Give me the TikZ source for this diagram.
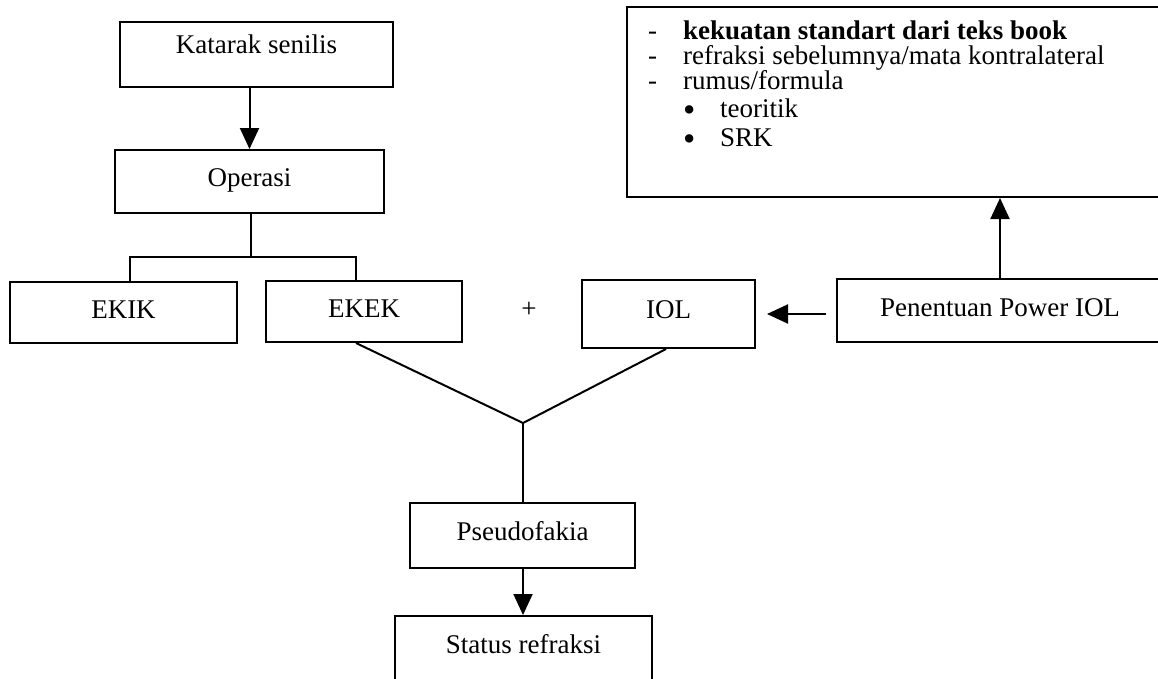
\documentclass[tikz,border=0pt]{standalone}
\usepackage{fontspec}
\setmainfont{Liberation Serif}
\usepackage{tikz}
\usetikzlibrary{arrows.meta,positioning,calc}

\newcommand{\titik}{\raisebox{-4pt}[12pt][0pt]{\scalebox{1.3}{\textbullet}}}

\begin{document}
\begin{tikzpicture}[x=1pt,y=-1pt,
    box/.style={draw,line width=2pt,inner sep=0pt,text height=18pt,text depth=6pt},
    isi/.style={anchor=base west,inner sep=0pt},
    garis/.style={line width=2pt},
    panah/.style={line width=2pt,-{Triangle[length=21pt,width=19pt]}},
    font=\fontsize{27}{30}\selectfont
]
\useasboundingbox (0,0) rectangle (1158,678);
\clip (0,0) rectangle (1158,678);

\node[box,minimum width=273,minimum height=65,text depth=20pt] (katarak) at (256.5,54.5) {Katarak senilis};
\node[box,minimum width=269,minimum height=63,text depth=9pt] (operasi) at (249.5,181.5) {Operasi};
\node[box,minimum width=227,minimum height=61] (ekik) at (123.5,312.5) {EKIK};
\node[box,minimum width=196,minimum height=61] (ekek) at (364,311.5) {EKEK};
\node (plus) at (529,310) {+};
\node[box,minimum width=173,minimum height=68,text depth=10pt] (iol) at (668.5,314) {IOL};
\node[box,minimum width=326,minimum height=63] (penentuan) at (1000,310.5) {Penentuan Power IOL};
\node[box,minimum width=538,minimum height=190] (teks) at (896,102) {};
\node[box,minimum width=225,minimum height=65,text depth=9pt] (pseudo) at (522.5,535.5) {Pseudofakia};
\node[box,minimum width=257,inner ysep=19pt,text depth=45pt,anchor=north] (status) at (523.5,615) {Status refraksi};

\node[isi] (d1) at (648,39) {-};
\node[isi] (t1) at (683,39) {\bfseries kekuatan standart dari teks book};
\node[isi] (d2) at (648,64) {-};
\node[isi] (t2) at (683,64) {refraksi sebelumnya/mata kontralateral};
\node[isi] (d3) at (648,89) {-};
\node[isi] (t3) at (683,89) {rumus/formula};
\node[isi] (b1) at (683,117) {\titik};
\node[isi] (t4) at (720,117) {teoritik};
\node[isi] (b2) at (683,146) {\titik};
\node[isi] (t5) at (720,146) {SRK};

\coordinate (cabang) at (251,257);
\coordinate (temu) at (523,423);

\draw[panah] (operasi.north |- katarak.south) -- (operasi.north);
\draw[garis] (operasi.south -| cabang) -- (cabang);
\draw[garis] ([xshift=6.5pt]ekik.north) |- (cabang) -| ([xshift=-8pt]ekek.north);
\draw[garis] ([xshift=-8pt]ekek.south) -- (temu) -- ([xshift=-2.5pt]iol.south);
\draw[garis] (temu) -- (temu |- pseudo.north);
\draw[panah] (pseudo.south -| temu) -- (temu |- status.north);
\draw[panah,shorten <=10pt,shorten >=11pt] (penentuan.west |- iol) -- (iol.east);
\draw[panah] (penentuan.north) -- (penentuan.north |- teks.south);
\end{tikzpicture}
\end{document}
